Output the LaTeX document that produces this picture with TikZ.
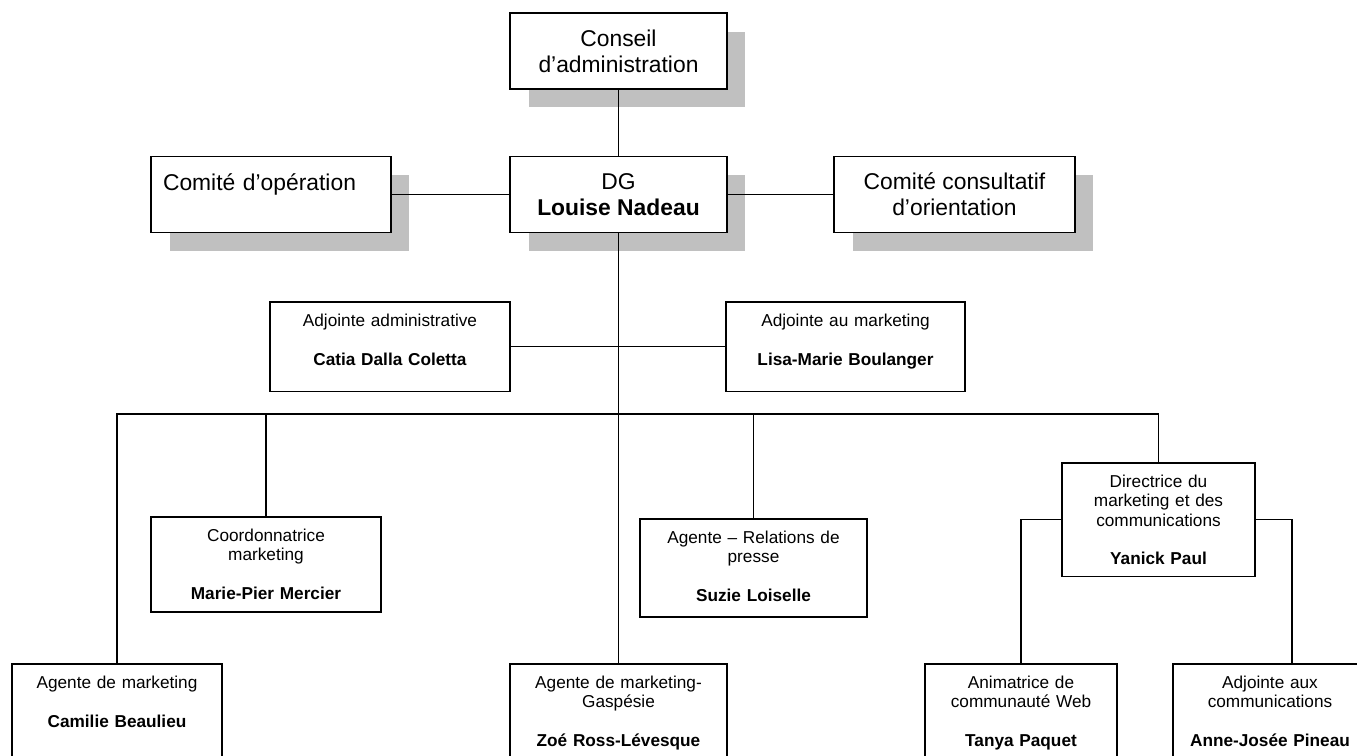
\documentclass[tikz,border=0pt]{standalone}
\usepackage{fontspec}
\setmainfont{Liberation Sans}
\usepackage{tikz}
\usetikzlibrary{shadows}
\definecolor{shadowgray}{HTML}{C0C0C0}
\newcommand{\bigtext}{\fontsize{13}{14.7}\selectfont}
\newcommand{\smalltext}{\fontsize{9.8}{11}\selectfont}
\tikzset{
  topbox/.style={draw, fill=white, line width=1.1pt, align=center, inner sep=2pt, font=\bigtext, minimum height=1.52cm,
    general shadow={fill=shadowgray, draw=none, shadow xshift=0.37cm, shadow yshift=-0.37cm}},
  staffbox/.style={draw, fill=white, line width=1.05pt, align=center, inner sep=0pt, font=\smalltext, anchor=north, text height=13.9pt},
  orgline/.style={draw, line width=0.85pt}
}

\begin{document}
\begin{tikzpicture}[x=0.02cm, y=-0.02cm]
  \useasboundingbox (0,0) rectangle (1357,755);
  \clip (0,0) rectangle (1357,755);

  % direction
  \node[topbox, minimum width=4.34cm] (board) at (618.5,51) {Conseil\\d’administration};
  \node[topbox, minimum width=4.34cm] (dg) at (618.5,194.5) {DG\\\textbf{Louise Nadeau}};
  \node[topbox, minimum width=4.8cm, text width=4.32cm, align=left, inner xsep=0.24cm] (ops) at (271,194.5) {Comité d’opération\\\mbox{}};
  \node[topbox, minimum width=4.82cm] (advisory) at (954.5,194.5) {Comité consultatif\\d’orientation};

  % adjointes
  \node[staffbox, text width=4.8cm, text depth=37.1pt] (assistAdm) at (390,301) {Adjointe administrative\\[11pt]\textbf{Catia Dalla Coletta}};
  \node[staffbox, text width=4.78cm, text depth=37.1pt] (assistMkt) at (845.5,301) {Adjointe au marketing\\[11pt]\textbf{Lisa-Marie Boulanger}};

  % equipe
  \node[staffbox, text width=4.6cm, text depth=40pt] (coord) at (266,516) {Coordonnatrice\\marketing\\[11pt]\textbf{Marie-Pier Mercier}};
  \node[staffbox, text width=4.54cm, text depth=41.7pt] (press) at (753.5,518) {Agente – Relations de\\presse\\[11pt]\textbf{Suzie Loiselle}};
  \node[staffbox, text width=3.86cm, text depth=50.7pt] (dir) at (1158.5,462) {Directrice du\\marketing et des\\communications\\[11pt]\textbf{Yanick Paul}};
  \node[staffbox, text width=4.2cm, text depth=58.1pt] (cam) at (117,663) {Agente de marketing\\[11pt]\textbf{Camilie Beaulieu}};
  \node[staffbox, text width=4.34cm, text depth=58.1pt] (zoe) at (618.5,663) {Agente de marketing-\\Gaspésie\\[11pt]\textbf{Zoé Ross-Lévesque}};
  \node[staffbox, text width=3.84cm, text depth=58.1pt] (web) at (1021,663) {Animatrice de\\communauté Web\\[11pt]\textbf{Tanya Paquet}};
  \node[staffbox, text width=3.88cm, text depth=58.1pt] (comm) at (1270,663) {Adjointe aux\\communications\\[11pt]\textbf{Anne-Josée Pineau}};

  \coordinate (barL) at (117,414);
  \coordinate (barR) at (1158.5,414);
  \coordinate (commDrop) at (1292,663);

  \draw[orgline] (board) -- (dg);
  \draw[orgline] (dg.west) -- (ops.east);
  \draw[orgline] (dg.east) -- (advisory.west);
  \draw[orgline] (dg.south) -- (dg.south |- zoe.north);
  \draw[orgline] (assistAdm.east) -- (assistMkt.west);
  \draw[orgline] (cam.north) -- (barL) -- (barR) -- (dir.north);
  \draw[orgline] (coord.north) -- (coord.north |- barL);
  \draw[orgline] (press.north) -- (press.north |- barL);
  \draw[orgline] (dir.west) -| (web.north);
  \draw[orgline] (dir.east) -| (commDrop);
\end{tikzpicture}
\end{document}
